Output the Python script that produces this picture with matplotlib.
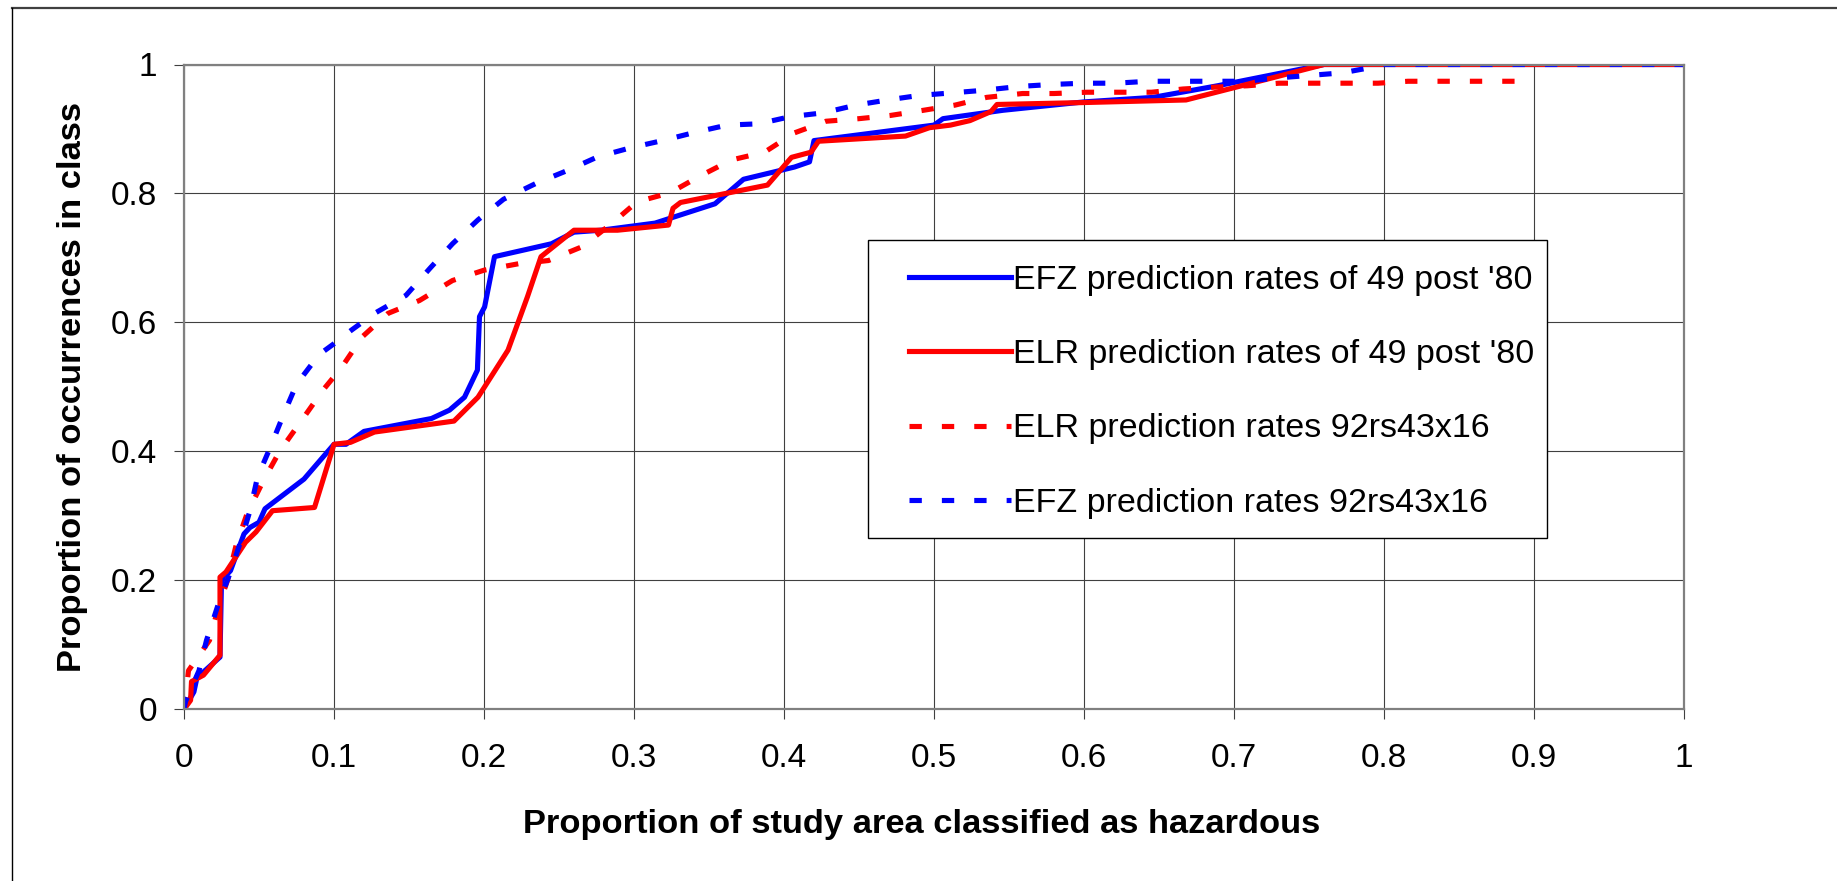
import numpy as np
import matplotlib
matplotlib.use("Agg")
import matplotlib.pyplot as plt
from matplotlib.lines import Line2D
from matplotlib.patches import Rectangle

plt.rcParams['font.family'] = ['Liberation Sans', 'DejaVu Sans']

# EFZ prediction rates of 49 post '80 (blue solid)
efz_x = [0, 0.0066, 0.009, 0.013, 0.024, 0.025, 0.031, 0.040, 0.044, 0.050, 0.054, 0.080,
         0.100, 0.108, 0.120, 0.165, 0.177, 0.187, 0.1956, 0.197, 0.2004, 0.207, 0.245,
         0.260, 0.278, 0.314, 0.354, 0.373, 0.407, 0.417, 0.420, 0.500, 0.506, 0.546,
         0.600, 0.646, 0.689, 0.760, 1.0]
efz_y = [0, 0.027, 0.053, 0.058, 0.081, 0.200, 0.215, 0.272, 0.282, 0.290, 0.311, 0.357,
         0.411, 0.411, 0.431, 0.451, 0.464, 0.484, 0.526, 0.609, 0.624, 0.702, 0.722,
         0.740, 0.743, 0.754, 0.784, 0.822, 0.841, 0.849, 0.882, 0.906, 0.916, 0.929,
         0.942, 0.949, 0.967, 1.0, 1.0]

# ELR prediction rates of 49 post '80 (red solid)
elr_x = [0, 0.0044, 0.005, 0.013, 0.024, 0.024, 0.028, 0.041, 0.048, 0.059, 0.087, 0.100,
         0.111, 0.127, 0.180, 0.196, 0.216, 0.229, 0.238, 0.260, 0.289, 0.323, 0.326,
         0.331, 0.389, 0.405, 0.418, 0.423, 0.481, 0.497, 0.511, 0.524, 0.538, 0.542,
         0.600, 0.668, 0.705, 0.760, 1.0]
elr_y = [0, 0.014, 0.043, 0.053, 0.084, 0.205, 0.213, 0.259, 0.275, 0.308, 0.313, 0.411,
         0.414, 0.430, 0.447, 0.484, 0.557, 0.640, 0.702, 0.743, 0.743, 0.751, 0.777,
         0.786, 0.813, 0.856, 0.864, 0.881, 0.889, 0.902, 0.906, 0.913, 0.927, 0.938,
         0.941, 0.945, 0.967, 1.0, 1.0]

# ELR prediction rates 92rs43x16 (red dashed)
elr92_x = [0, 0.003, 0.017, 0.023, 0.029, 0.035, 0.042, 0.053, 0.064, 0.079, 0.093, 0.105,
           0.119, 0.136, 0.157, 0.179, 0.200, 0.223, 0.243, 0.265, 0.285, 0.302, 0.324,
           0.344, 0.365, 0.387, 0.407, 0.428, 0.450, 0.471, 0.493, 0.514, 0.535, 0.559,
           0.580, 0.602, 0.624, 0.645, 0.666, 0.688, 0.709, 0.730, 0.752, 0.773, 0.796,
           0.816, 0.837, 0.859, 0.881, 0.893]
elr92_y = [0, 0.060, 0.107, 0.159, 0.200, 0.257, 0.303, 0.355, 0.401, 0.450, 0.496, 0.530,
           0.578, 0.614, 0.634, 0.665, 0.681, 0.691, 0.696, 0.717, 0.753, 0.787, 0.801,
           0.827, 0.852, 0.864, 0.894, 0.912, 0.916, 0.921, 0.929, 0.937, 0.949, 0.955,
           0.955, 0.957, 0.957, 0.957, 0.962, 0.965, 0.967, 0.971, 0.971, 0.971, 0.971,
           0.974, 0.974, 0.974, 0.974, 0.974]

# EFZ prediction rates 92rs43x16 (blue dashed)
efz92_x = [0, 0.001, 0.010, 0.015, 0.023, 0.031, 0.038, 0.044, 0.049, 0.058, 0.066, 0.075,
           0.090, 0.100, 0.1116, 0.127, 0.148, 0.164, 0.179, 0.196, 0.213, 0.235, 0.256,
           0.276, 0.298, 0.319, 0.341, 0.362, 0.383, 0.404, 0.426, 0.448, 0.469, 0.490,
           0.512, 0.533, 0.557, 0.578, 0.600, 0.621, 0.643, 0.665, 0.686, 0.708, 0.728,
           0.750, 0.772, 0.793, 0.800, 1.0]
efz92_y = [0, 0.012, 0.060, 0.107, 0.164, 0.213, 0.262, 0.308, 0.360, 0.409, 0.455, 0.504,
           0.550, 0.567, 0.588, 0.614, 0.642, 0.684, 0.722, 0.759, 0.791, 0.816, 0.836,
           0.857, 0.871, 0.882, 0.895, 0.906, 0.908, 0.919, 0.925, 0.937, 0.945, 0.952,
           0.956, 0.960, 0.966, 0.969, 0.971, 0.971, 0.974, 0.974, 0.974, 0.974, 0.979,
           0.983, 0.987, 0.996, 1.0, 1.0]

labels = ["EFZ prediction rates of 49 post '80", "ELR prediction rates of 49 post '80",
          "ELR prediction rates 92rs43x16", "EFZ prediction rates 92rs43x16"]
x_ticklabels = ["0", "0.1", "0.2", "0.3", "0.4", "0.5", "0.6", "0.7", "0.8", "0.9", "1"]
y_ticklabels = ["0", "0.2", "0.4", "0.6", "0.8", "1"]

W, H = 1837, 881
fig = plt.figure(figsize=(W / 100, H / 100), dpi=100)
ax = fig.add_axes([184 / W, 1 - 709.3 / H, 1500 / W, 644.8 / H])

lw = 3.7
dash = (2.4, 3.9)
ax.plot(efz_x, efz_y, color='#0000ff', lw=lw, solid_joinstyle='round', label=labels[0])
ax.plot(elr_x, elr_y, color='#ff0000', lw=lw, solid_joinstyle='round', label=labels[1])
ax.plot(elr92_x, elr92_y, color='#ff0000', lw=lw, dashes=dash, dash_capstyle='butt', label=labels[2])
ax.plot(efz92_x, efz92_y, color='#0000ff', lw=lw, dashes=dash, dash_capstyle='butt', label=labels[3])

ax.set_xlim(0, 1)
ax.set_ylim(0, 1)
ax.set_xticks(np.linspace(0, 1, 11))
ax.set_xticklabels(x_ticklabels)
ax.set_yticks(np.linspace(0, 1, 6))
ax.set_yticklabels(y_ticklabels)
ax.tick_params(axis='both', direction='out', length=7.2, width=0.8, colors='#404040',
               labelsize=24, labelcolor='black')
ax.tick_params(axis='x', pad=17)
ax.tick_params(axis='y', pad=12)
ax.grid(True, color='#404040', lw=0.8)
ax.set_axisbelow(True)
for s in ax.spines.values():
    s.set_color('#808080')
    s.set_linewidth(1.6)

# legend box and entries
ax.add_patch(Rectangle(((868 - 184) / 1500, (709.3 - 538) / 644.8), (1547 - 868) / 1500,
                       (538 - 240) / 644.8, transform=ax.transAxes, facecolor='white',
                       edgecolor='black', lw=1.0, zorder=5))
leg = ax.legend(loc='upper left', bbox_to_anchor=((909 - 184) / 1500, (709.3 - 265) / 644.8),
                frameon=False, fontsize=24.5, handlelength=3.0, handletextpad=0.05,
                labelspacing=1.27, borderpad=0, borderaxespad=0)
leg.set_zorder(6)

fig.text(922 / W, 1 - 833 / H, "Proportion of study area classified as hazardous",
         ha='center', va='baseline', fontsize=24.8, fontweight='bold')
fig.text(72.5 / W, 1 - 387 / H, "Proportion of occurrences in class", rotation=90,
         ha='center', va='center', fontsize=24.8, fontweight='bold')

# outer chart border (top and left only visible)
fig.add_artist(Line2D([12 / W, 1], [1 - 7.5 / H, 1 - 7.5 / H], transform=fig.transFigure,
                      color='#404040', lw=1.6))
fig.add_artist(Line2D([11.7 / W, 11.7 / W], [0, 1 - 7.5 / H], transform=fig.transFigure,
                      color='black', lw=1.0))

fig.savefig("out.png", dpi=100)
